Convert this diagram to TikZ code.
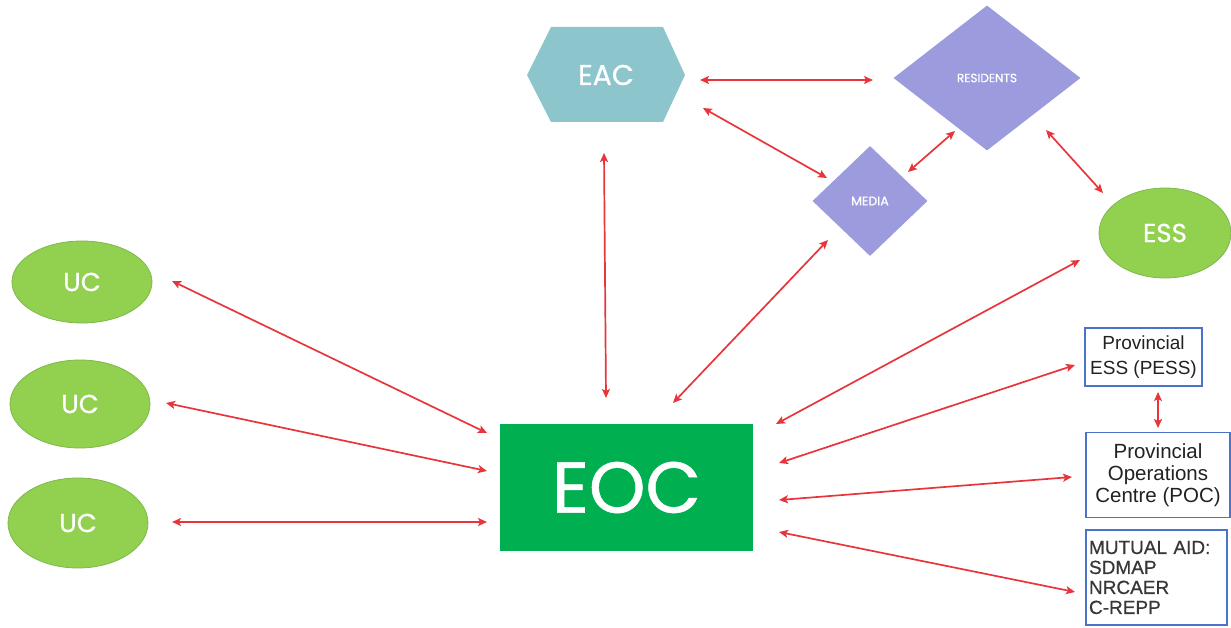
\documentclass[tikz,border=0pt]{standalone}
\usepackage{fontspec}
\setmainfont{Liberation Sans}
\newfontfamily\pop{Poppins}[FakeBold=0.7]
\newfontfamily\arialb{Liberation Sans}[FakeBold=0.6]
\usetikzlibrary{shapes.geometric,arrows.meta}
\definecolor{ucgreen}{HTML}{92D050}
\definecolor{ucedge}{HTML}{7DB84A}
\definecolor{eocgreen}{HTML}{00B050}
\definecolor{eacteal}{HTML}{8CC6CC}
\definecolor{lav}{HTML}{9B9BDE}
\definecolor{arrred}{HTML}{E8353B}
\definecolor{boxblue}{HTML}{4A74C9}
\definecolor{txtdark}{HTML}{222222}
\tikzset{
  ucnode/.style={ellipse, fill=ucgreen, draw=ucedge, line width=0.8pt, inner sep=0pt,
    text=white, font=\pop\fontsize{26}{28}\selectfont},
  lavnode/.style={diamond, fill=lav, inner sep=0pt, text=white},
  provbox/.style={rectangle, draw=boxblue, line width=1.8pt, fill=white, inner sep=0pt,
    text=txtdark, align=center},
  arr/.style={draw=arrred, line width=1.7pt, {Stealth[length=9pt,width=8pt,inset=2pt]}-{Stealth[length=9pt,width=8pt,inset=2pt]}}
}
\begin{document}
\begin{tikzpicture}[x=1pt,y=-1pt]
\useasboundingbox (0,0) rectangle (1231,628);
% EAC hexagon
\fill[eacteal] (527,75) -- (551,27) -- (663,27) -- (685,75) -- (663,122) -- (551,122) -- cycle;
\node[rectangle, minimum width=158pt, minimum height=95pt, inner sep=0pt, text=white,
  font=\pop\fontsize{28.5}{30}\selectfont] (eac) at (606,75) {EAC};
% diamonds
\node[lavnode, minimum width=187pt, minimum height=145pt, font=\pop\fontsize{12}{14}\selectfont] (res) at (987,78) {RESIDENTS};
\node[lavnode, minimum width=115pt, minimum height=110pt, font=\pop\fontsize{12.5}{14}\selectfont] (media) at (870,201) {MEDIA};
% ellipses
\node[ucnode, minimum width=132pt, minimum height=90pt] (ess) at (1165,233) {ESS};
\node[ucnode, minimum width=140pt, minimum height=82pt] (uc1) at (82,282) {UC};
\node[ucnode, minimum width=140pt, minimum height=88pt] (uc2) at (80,404) {UC};
\node[ucnode, minimum width=140pt, minimum height=90pt] (uc3) at (78,523) {UC};
% EOC
\node[rectangle, fill=eocgreen, minimum width=253pt, minimum height=127pt, inner sep=0pt,
  text=white, font=\pop\fontsize{72}{74}\selectfont] (eoc) at (626.5,487.5) {EOC};
% provincial boxes
\node[provbox, minimum width=117pt, minimum height=58pt, font=\fontsize{19}{25}\selectfont] (pess) at (1143.5,357) {Provincial\\ESS (PESS)};
\node[provbox, minimum width=144pt, minimum height=85pt, font=\fontsize{20.5}{22}\selectfont] (poc) at (1158,475) {Provincial\\Operations\\Centre (POC)};
\node[provbox, minimum width=141pt, minimum height=95pt, text width=135pt, align=left, inner xsep=3pt,
  font=\arialb\fontsize{19}{20}\selectfont, text=txtdark!90] (mut) at (1156.5,577.5) {MUTUAL AID:\\SDMAP\\NRCAER\\C-REPP};
% connectors
\draw[arr] ([shift={(94,5)}]eac.center) -- ([shift={(-114,2)}]res.center);
\draw[arr] ([shift={(97,33)}]eac.center) -- ([shift={(-43,-23)}]media.center);
\draw[arr] ([shift={(-32,53)}]res.center) -- ([shift={(38,-29)}]media.center);
\draw[arr] ([shift={(59,52)}]res.center) -- ([shift={(-62,-40)}]ess.center);
\draw[arr] ([shift={(-2,78)}]eac.center) -- ([shift={(-20.5,-89.5)}]eoc.center);
\draw[arr] ([shift={(46.5,-84.5)}]eoc.center) -- ([shift={(-42,39)}]media.center);
\draw[arr] ([shift={(149.5,-63.5)}]eoc.center) -- ([shift={(-85,27)}]ess.center);
\draw[arr] ([shift={(152.5,-24.5)}]eoc.center) -- ([shift={(-68.5,8)}]pess.center);
\draw[arr] ([shift={(152.5,12.5)}]eoc.center) -- ([shift={(-86,2)}]poc.center);
\draw[arr] ([shift={(152.5,44.5)}]eoc.center) -- ([shift={(-81.5,14.5)}]mut.center);
\draw[arr] ([shift={(90,-1)}]uc1.center) -- ([shift={(-139.5,-54.5)}]eoc.center);
\draw[arr] ([shift={(86,-1)}]uc2.center) -- ([shift={(-139.5,-16.5)}]eoc.center);
\draw[arr] ([shift={(94,-1)}]uc3.center) -- ([shift={(-139.5,34.5)}]eoc.center);
\draw[arr] ([shift={(14.5,35)}]pess.center) -- ([shift={(0,-47)}]poc.center);
\end{tikzpicture}
\end{document}
